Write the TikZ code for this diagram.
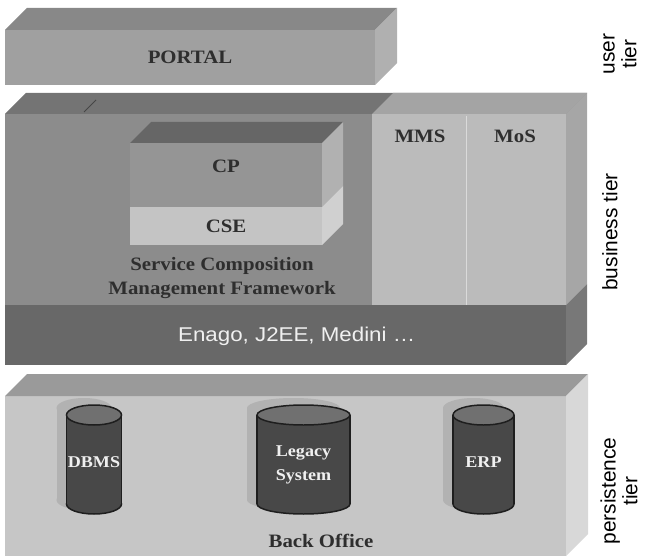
\documentclass[tikz,border=0pt]{standalone}
\usepackage{fontspec}
\newfontfamily\lblfont{Liberation Serif}[FakeStretch=1.1]
\newfontfamily\tierfont{Liberation Sans}
\newfontfamily\enfont{Liberation Sans}[FakeStretch=1.12]
\definecolor{portalfront}{HTML}{A0A0A0}
\definecolor{portaltop}{HTML}{888888}
\definecolor{portalside}{HTML}{B0B0B0}
\definecolor{busfront}{HTML}{8C8C8C}
\definecolor{bustop}{HTML}{747474}
\definecolor{busside}{HTML}{A6A6A6}
\definecolor{panel}{HTML}{BBBBBB}
\definecolor{paneltop}{HTML}{A4A4A4}
\definecolor{enfront}{HTML}{686868}
\definecolor{enside}{HTML}{787878}
\definecolor{cpfront}{HTML}{959595}
\definecolor{cptop}{HTML}{666666}
\definecolor{cpside}{HTML}{B1B1B1}
\definecolor{csefront}{HTML}{C4C4C4}
\definecolor{cseside}{HTML}{D0D0D0}
\definecolor{perfront}{HTML}{C6C6C6}
\definecolor{pertop}{HTML}{9A9A9A}
\definecolor{perside}{HTML}{D8D8D8}
\definecolor{cylbody}{HTML}{484848}
\definecolor{cyltop}{HTML}{707070}
\definecolor{cyledge}{HTML}{1E1E1E}
\definecolor{cylshadow}{HTML}{B2B2B2}
\definecolor{labeltext}{HTML}{2E2E2E}
\definecolor{lighttext}{HTML}{F0F0F0}
\begin{document}
\begin{tikzpicture}[x=1bp,y=-1bp,
  lbl/.style={font=\lblfont\bfseries\fontsize{19}{24}\selectfont, text=labeltext, align=center, inner sep=0pt},
  cyltxt/.style={font=\lblfont\bfseries\fontsize{16.5}{24}\selectfont, text=lighttext, align=center, inner sep=0pt},
  entxt/.style={font=\enfont\fontsize{20}{22}\selectfont, text=lighttext, inner sep=0pt},
  tiertxt/.style={font=\tierfont\fontsize{21}{22}\selectfont, text=black, rotate=90, align=center, inner sep=0pt}]
\useasboundingbox (0,0) rectangle (646,560);

% ---------- PORTAL box ----------
\fill[portalfront] (5,30) rectangle (375,85);
\fill[portaltop] (5,30) -- (27,8) -- (397,8) -- (375,30) -- cycle;
\fill[portalside] (375,30) -- (397,8) -- (397,63) -- (375,85) -- cycle;
\node[lbl] (portal) at (190,57) {PORTAL};

% ---------- business tier box ----------
\fill[busfront] (5,114) rectangle (566,305);
\fill[bustop] (5,114) -- (26,93) -- (587,93) -- (566,114) -- cycle;
\draw[bustop!60!black, line width=0.8pt] (84,112) -- (96,100);
\fill[paneltop] (372,114) -- (393,93) -- (587,93) -- (566,114) -- cycle;
\fill[busside] (566,114) -- (587,93) -- (587,284) -- (566,305) -- cycle;
\fill[panel] (372,114) rectangle (566,305);
\draw[line width=0.8pt, panel!55!white] (466,116) -- (466,305);
\fill[enfront] (5,305) rectangle (566,365);
\fill[enside] (566,305) -- (587,284) -- (587,344) -- (566,365) -- cycle;
\node[lbl] (mms) at (420,136) {MMS};
\node[lbl] (mos) at (515,136) {MoS};
\node[entxt, anchor=west] (enago) at (178,336) {Enago, J2EE, Medini \ldots};

% CP box
\fill[cpfront] (130,143) rectangle (322,207);
\fill[cptop] (130,143) -- (151,122) -- (343,122) -- (322,143) -- cycle;
\fill[cpside] (322,143) -- (343,122) -- (343,186) -- (322,207) -- cycle;
\node[lbl] (cp) at (226,166) {CP};
% CSE box
\fill[csefront] (130,207) rectangle (322,245);
\fill[cseside] (322,207) -- (343,186) -- (343,224) -- (322,245) -- cycle;
\node[lbl] (cse) at (226,226) {CSE};
\node[lbl] (scmf) at (222,278) {Service Composition\\Management Framework};

% ---------- persistence tier box ----------
\fill[perfront] (5,396) rectangle (566,556);
\fill[pertop] (5,396) -- (27,374) -- (588,374) -- (566,396) -- cycle;
\fill[perside] (566,396) -- (588,374) -- (588,534) -- (566,556) -- cycle;

% cylinder shadows
\foreach \cx/\rx in {94/27.5, 303.5/46.5, 483.5/30.5}{
  \fill[cylshadow] (\cx-10,500) ellipse [x radius=\rx, y radius=10];
  \fill[cylshadow] (\cx-10-\rx,408) rectangle (\cx-10+\rx,500);
  \fill[cylshadow] (\cx-10,408) ellipse [x radius=\rx, y radius=10];
}
% cylinders
\foreach \cx/\rx in {94/27.5, 303.5/46.5, 483.5/30.5}{
  \filldraw[fill=cylbody, draw=cyledge, line width=1.5pt] (\cx,504) ellipse [x radius=\rx, y radius=10];
  \fill[cylbody] (\cx-\rx,415) rectangle (\cx+\rx,504);
  \draw[cyledge, line width=1.5pt] (\cx-\rx,415) -- (\cx-\rx,504) (\cx+\rx,415) -- (\cx+\rx,504);
  \filldraw[fill=cyltop, draw=cyledge, line width=1.5pt] (\cx,415) ellipse [x radius=\rx, y radius=10];
}
\node[cyltxt] (dbms) at (94,462) {DBMS};
\node[cyltxt] (legacy) at (303.5,465) {Legacy\\System};
\node[cyltxt] (erp) at (483.5,462) {ERP};
\node[lbl] (backoffice) at (321,541) {Back Office};

% ---------- tier labels ----------
\node[tiertxt] (usertier) at (620,54) {user\\tier};
\node[tiertxt] (bustier) at (610,232) {business tier};
\node[tiertxt] (pertier) at (619,491) {persistence\\tier};
\end{tikzpicture}
\end{document}
